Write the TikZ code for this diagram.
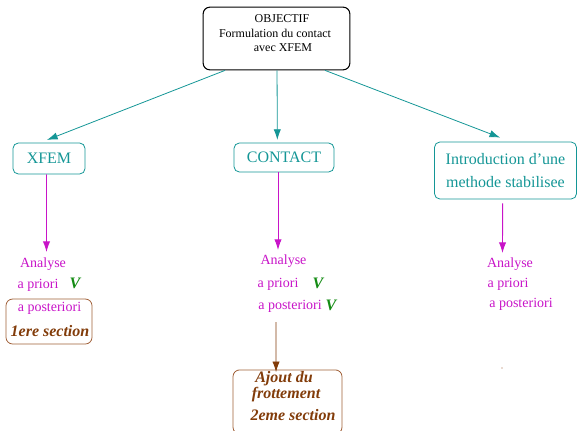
\documentclass[tikz,border=0pt]{standalone}
\usepackage{fontspec}
\setmainfont{Liberation Serif}
\usetikzlibrary{arrows.meta}
\definecolor{tealc}{RGB}{20,150,150}
\definecolor{magc}{RGB}{200,20,200}
\definecolor{greenc}{RGB}{20,140,20}
\definecolor{brownt}{RGB}{130,60,10}
\definecolor{brownb}{RGB}{160,95,55}
\tikzset{
  objbox/.style={draw=black, thick, rounded corners=5pt, minimum width=110pt, minimum height=47pt},
  tealbox/.style={draw=tealc, line width=0.6pt, rounded corners=4pt, text=tealc, font=\fontsize{12}{17}\selectfont, align=center, inner sep=0pt},
  brownbox/.style={draw=brownb, line width=0.6pt, rounded corners=5pt, inner sep=0pt},
  mtxt/.style={text=magc, font=\fontsize{10.5}{12}\selectfont, inner sep=0pt},
  vtxt/.style={text=greenc, font=\fontsize{12}{14}\selectfont\bfseries\itshape, inner sep=0pt},
  btxt/.style={text=brownt, font=\fontsize{12}{14}\selectfont\bfseries\itshape, inner sep=0pt},
  otxt/.style={font=\fontsize{9}{11}\selectfont, inner sep=0pt},
  tealarr/.style={draw=tealc, line width=0.6pt, -{Latex[length=8pt,width=5.5pt]}},
  magarr/.style={draw=magc, line width=0.7pt, -{Latex[length=8pt,width=5.5pt]}},
  brownarr/.style={draw=brownt, line width=0.6pt, -{Latex[length=8pt,width=5.5pt]}},
}
\begin{document}
\begin{tikzpicture}[x=0.75pt,y=-0.75pt]
\useasboundingbox (0,0) rectangle (577,430);
% top box
\node[objbox] (obj) at (276.5,38.5) {};
\node[otxt] (o1) at (282,19) {OBJECTIF};
\node[otxt] (o2) at (275,33) {Formulation du contact};
\node[otxt] (o3) at (283,48) {avec XFEM};
% second level boxes
\node[tealbox, minimum width=54pt, minimum height=23.25pt] (xfem) at (49,158.5) {XFEM};
\node[tealbox, minimum width=75pt, minimum height=21.75pt] (contact) at (284,157.5) {CONTACT};
\node[tealbox, minimum width=106.5pt, minimum height=42.75pt] (intro) at (505.5,170.5) {Introduction d'une\\ methode stabilisee};
% teal arrows
\draw[tealarr] ([xshift=-38.6pt]obj.south) -- ([xshift=-1.5pt,yshift=2pt]xfem.north);
\draw[tealarr] ([xshift=0.4pt]obj.south) -- ([xshift=-5pt,yshift=2pt]contact.north);
\draw[tealarr] ([xshift=36.4pt]obj.south) -- ([xshift=-4pt,yshift=3pt]intro.north);
% XFEM column
\coordinate (xa) at (46.5,252);
\draw[magarr] ([xshift=-1.9pt]xfem.south) -- (xa);
\node[mtxt] (x1) at (43,264) {Analyse};
\node[mtxt] (x2) at (38,285) {a priori};
\node[vtxt] (xv) at (75,283) {V};
\node[brownbox, minimum width=64.5pt, minimum height=33.75pt] (xsec) at (49,321.5) {};
\node[mtxt] (x3) at (49.5,308) {a posteriori};
\node[btxt] (x4) at (50,331) {1ere section};
% CONTACT column
\coordinate (ca) at (278,250);
\draw[magarr] ([xshift=-4.5pt]contact.south) -- (ca);
\node[mtxt] (c1) at (283.5,261) {Analyse};
\node[mtxt] (c2) at (278,284) {a priori};
\node[vtxt] (cv1) at (318,283) {V};
\node[mtxt] (c3) at (290,306) {a posteriori};
\node[vtxt] (cv2) at (331,305) {V};
\node[brownbox, minimum width=81.75pt, minimum height=48pt, anchor=north] (csec) at (287.5,369.5) {};
\coordinate (cb) at (276,322);
\draw[brownarr] (cb) -- ([xshift=-8.6pt,yshift=-2pt]csec.north);
\node[btxt] (c4) at (284,379) {Ajout du};
\node[btxt] (c5) at (286,395) {frottement};
\node[btxt] (c6) at (293,415) {2eme section};
% Intro column
\coordinate (ia) at (502.5,253);
\draw[magarr] ([xshift=-2.2pt,yshift=-3pt]intro.south) -- (ia);
\node[mtxt] (i1) at (510,264) {Analyse};
\node[mtxt] (i2) at (508,284) {a priori};
\node[mtxt] (i3) at (521,304) {a posteriori};
\fill[brownb] (502,368) circle (0.5pt);
\end{tikzpicture}
\end{document}
